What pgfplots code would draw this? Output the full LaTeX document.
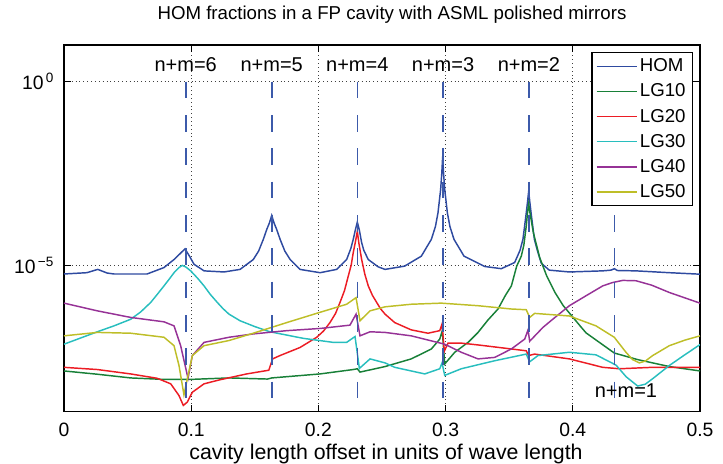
\documentclass[border=0pt]{standalone}
\usepackage{fontspec}
\setmainfont{Liberation Sans}
\usepackage{pgfplots}
\pgfplotsset{compat=1.18}

\definecolor{cHOM}{RGB}{46,74,160}
\definecolor{cLGa}{RGB}{24,128,56}
\definecolor{cLGb}{RGB}{236,28,36}
\definecolor{cLGc}{RGB}{40,190,190}
\definecolor{cLGd}{RGB}{150,50,150}
\definecolor{cLGe}{RGB}{190,190,40}
\definecolor{cdash}{RGB}{60,90,170}

\begin{document}
\begin{tikzpicture}
\begin{axis}[
  scale only axis,
  width=477pt, height=275pt,
  ymode=log,
  xmin=0, xmax=0.5, ymin=1e-9, ymax=10,
  xtick={0,0.1,0.2,0.3,0.4,0.5},
  xticklabels={0,0.1,0.2,0.3,0.4,0.5},
  ytick={1e-5,1},
  yticklabels={10\textsuperscript{\,−5},10\textsuperscript{\,0}},
  yminorticks=false, xminorticks=false,
  tick align=inside, major tick length=5pt,
  tick style={black, line width=0.7pt},
  axis line style={black, line width=1.1pt},
  grid=major,
  major grid style={black!75, line width=0.5pt, dash pattern=on 0.5pt off 2.4pt},
  every tick label/.append style={font=\fontsize{14.5}{16}\selectfont},
  xticklabel style={anchor=base, yshift=-18.75pt},
  yticklabel style={anchor=base east, xshift=-4pt, yshift=-6.2pt},
  title={HOM fractions in a FP cavity with ASML polished mirrors},
  title style={at={(axis description cs:0.5,1)}, anchor=base, yshift=13pt, xshift=7.5pt, font=\fontsize{14}{16}\selectfont},
  xlabel={cavity length offset in units of wave length},
  xlabel style={at={(axis description cs:0.5,0)}, anchor=base, yshift=-36pt, xshift=3pt, font=\fontsize{16}{18}\selectfont},
  legend style={at={(0.989,0.981)}, anchor=north east, draw=black, line width=1.1pt, fill=white,
    font=\fontsize{14}{16}\selectfont, inner xsep=3pt, inner ysep=2.5pt, row sep=3.6pt},
  legend cell align=left,
  legend image code/.code={\draw[#1, line width=1pt] (0pt,0pt) -- (30pt,0pt);},
  every axis plot/.append style={line width=1.1pt},
]
% HOM
\addplot[cHOM] coordinates {
(0,5.69e-6) (0.018,6.17e-6) (0.0265,7.59e-6) (0.034,6.03e-6) (0.0393,5.69e-6)
(0.0653,5.69e-6) (0.0786,8.51e-6) (0.0865,1.41e-5) (0.0910,2.00e-5) (0.0951,2.75e-5)
(0.0985,1.78e-5) (0.1022,1.05e-5)
(0.1101,6.92e-6) (0.1258,6.46e-6) (0.1384,7.59e-6) (0.1488,1.41e-5) (0.1530,2.40e-5)
(0.1567,5.01e-5) (0.1594,9.33e-5) (0.1615,1.41e-4) (0.1633,2.24e-4) (0.1651,1.41e-4)
(0.1672,9.33e-5) (0.1699,5.01e-5) (0.1736,2.40e-5) (0.1778,1.41e-5)
(0.1855,7.59e-6) (0.2013,6.17e-6) (0.2144,7.59e-6) (0.2222,1.41e-5) (0.2255,2.82e-5)
(0.2274,5.01e-5) (0.2290,8.91e-5) (0.2306,1.48e-4) (0.2322,8.91e-5) (0.2340,4.07e-5)
(0.2357,2.51e-5) (0.2392,1.41e-5) (0.2470,8.91e-6)
(0.2524,7.59e-6) (0.2678,9.33e-6) (0.2809,1.74e-5) (0.2888,5.01e-5) (0.2920,1.12e-4)
(0.2940,2.63e-4) (0.2961,1.15e-3) (0.2970,3.16e-3) (0.2977,9.12e-3) (0.2984,3.16e-3)
(0.2993,1.15e-3) (0.3014,2.63e-4) (0.3034,1.12e-4) (0.3066,5.01e-5)
(0.3145,1.74e-5) (0.3307,9.12e-6) (0.3438,7.94e-6) (0.3543,1.17e-5) (0.3585,2.51e-5)
(0.3608,5.01e-5) (0.3634,2.63e-4) (0.3645,5.62e-4) (0.3653,1.02e-3) (0.3661,5.62e-4)
(0.3672,2.63e-4) (0.3698,5.01e-5) (0.3721,2.51e-5) (0.3752,1.12e-5)
(0.3815,7.24e-6) (0.3973,6.46e-6) (0.4235,6.92e-6) (0.4300,7.24e-6) (0.4327,7.94e-6)
(0.4350,7.08e-6) (0.4497,6.92e-6) (0.4759,6.17e-6) (0.5,5.62e-6)
};
\addlegendentry{HOM}
% LG10
\addplot[cLGa] coordinates {
(0,1.29e-8) (0.0262,1.05e-8) (0.0524,8.32e-9) (0.0786,7.59e-9) (0.0996,7.59e-9)
(0.1297,8.32e-9) (0.16,7.76e-9) (0.1633,8.32e-9) (0.2013,1.07e-8) (0.2274,1.41e-8)
(0.2306,1.48e-8) (0.2327,1.20e-8) (0.2524,1.70e-8) (0.2730,2.75e-8) (0.2888,5.13e-8)
(0.2954,9.55e-8) (0.2974,1.62e-7) (0.2993,2.00e-8) (0.3072,4.17e-8) (0.3180,7.94e-8)
(0.3255,1.45e-7) (0.3333,3.16e-7) (0.3412,6.31e-7) (0.3470,1.48e-6) (0.3517,2.69e-6)
(0.3559,9.33e-6) (0.3595,1.74e-5) (0.3615,3.47e-5) (0.3634,1.15e-4) (0.3645,2.88e-4)
(0.3653,4.68e-4) (0.3662,2.82e-4) (0.3690,7.59e-5) (0.3740,1.58e-5) (0.3795,5.01e-6)
(0.3860,1.78e-6) (0.3925,7.76e-7) (0.4057,2.19e-7)
(0.4104,1.41e-7) (0.4326,3.98e-8) (0.4510,2.63e-8) (0.4759,1.70e-8) (0.5,1.29e-8)
};
\addlegendentry{LG10}
% LG20
\addplot[cLGb] coordinates {
(0,1.62e-8) (0.0262,1.41e-8) (0.0524,1.07e-8) (0.0733,8.13e-9) (0.0839,5.75e-9)
(0.0904,2.75e-9) (0.0938,1.48e-9) (0.0969,1.82e-9) (0.1009,3.39e-9) (0.1101,5.75e-9)
(0.1226,7.41e-9) (0.1436,1.07e-8) (0.1610,1.35e-8) (0.1640,2.75e-8) (0.1698,3.39e-8)
(0.1855,5.62e-8) (0.1987,1.07e-7) (0.2040,1.58e-7) (0.2091,2.69e-7) (0.2135,4.79e-7)
(0.2170,9.55e-7) (0.2205,2.00e-6) (0.2235,5.01e-6) (0.2258,1.00e-5)
(0.2274,2.19e-5) (0.2292,4.47e-5) (0.2306,8.32e-5) (0.2318,3.98e-5) (0.2340,1.41e-5)
(0.2365,5.62e-6) (0.2392,2.69e-6) (0.2425,1.48e-6) (0.2458,9.55e-7) (0.2490,6.31e-7)
(0.2524,4.57e-7) (0.2600,2.69e-7) (0.2730,1.70e-7) (0.2862,1.38e-7) (0.2954,1.62e-7)
(0.2972,2.45e-7) (0.2990,4.47e-8) (0.3019,7.41e-8) (0.3123,7.41e-8) (0.3255,6.61e-8)
(0.3517,5.13e-8) (0.3634,4.57e-8) (0.3653,3.39e-8) (0.3700,3.72e-8) (0.3973,2.75e-8)
(0.4235,1.62e-8) (0.4366,1.48e-8) (0.4628,1.62e-8) (0.5,1.62e-8)
};
\addlegendentry{LG20}
% LG30
\addplot[cLGc] coordinates {
(0,6.92e-8) (0.0262,1.51e-7) (0.0393,2.19e-7) (0.0524,3.31e-7) (0.0603,5.25e-7)
(0.0682,9.55e-7) (0.0733,1.58e-6) (0.0786,2.69e-6) (0.0826,4.07e-6) (0.0865,6.17e-6)
(0.0904,8.51e-6) (0.0930,9.77e-6) (0.0960,8.71e-6) (0.0996,6.92e-6) (0.1050,4.37e-6)
(0.1101,2.69e-6) (0.1150,1.58e-6) (0.1205,9.55e-7) (0.1250,6.46e-7)
(0.1297,4.57e-7) (0.1384,3.02e-7) (0.1500,2.09e-7) (0.1619,1.51e-7) (0.1881,1.00e-7)
(0.2117,7.76e-8)
(0.2222,7.76e-8) (0.2288,1.12e-7) (0.2322,1.51e-8) (0.2406,2.75e-8) (0.2524,2.14e-8)
(0.2600,1.62e-8) (0.2836,1.07e-8) (0.2954,1.48e-8) (0.2972,2.14e-8) (0.2993,9.77e-9)
(0.3123,1.48e-8) (0.3386,2.45e-8) (0.3634,3.72e-8) (0.3661,2.29e-8) (0.3726,3.39e-8)
(0.3973,4.17e-8) (0.4182,3.55e-8) (0.4340,1.86e-8) (0.4420,8.91e-9) (0.4510,5.01e-9)
(0.4570,5.62e-9) (0.4628,7.94e-9) (0.4759,1.82e-8) (0.4880,3.55e-8) (0.5,6.76e-8)
};
\addlegendentry{LG30}
% LG40
\addplot[cLGd] coordinates {
(0,9.12e-7) (0.0262,5.62e-7) (0.0524,3.72e-7) (0.0786,2.82e-7) (0.0865,2.19e-7)
(0.0917,6.31e-8) (0.0975,8.13e-9) (0.1009,3.39e-8) (0.1101,7.76e-8) (0.1297,1.07e-7)
(0.1488,1.32e-7) (0.1751,1.62e-7) (0.2013,1.86e-7) (0.2248,2.29e-7) (0.2296,4.57e-7)
(0.2327,1.17e-7) (0.2406,1.51e-7) (0.2524,1.45e-7) (0.2730,1.17e-7) (0.2993,6.92e-8)
(0.3123,4.17e-8) (0.3255,2.75e-8) (0.3386,3.02e-8) (0.3517,5.13e-8) (0.3622,9.55e-8)
(0.3648,1.70e-7) (0.3661,8.32e-8) (0.3766,2.00e-7) (0.3842,3.31e-7) (0.3973,7.76e-7)
(0.4104,1.45e-6) (0.4235,2.69e-6) (0.4310,3.31e-6) (0.4392,3.80e-6) (0.4497,3.72e-6)
(0.4620,2.82e-6) (0.4759,1.78e-6) (0.5,9.12e-7)
};
\addlegendentry{LG40}
% LG50
\addplot[cLGe] coordinates {
(0,1.17e-7) (0.0262,1.45e-7) (0.0524,1.38e-7) (0.0786,1.07e-7) (0.0865,6.31e-8)
(0.0904,1.82e-8) (0.0943,2.88e-9) (0.0969,7.76e-9) (0.1009,3.39e-8) (0.1101,6.31e-8)
(0.1297,8.71e-8) (0.1488,1.38e-7) (0.1751,2.69e-7) (0.2013,5.13e-7) (0.2222,8.51e-7)
(0.2296,1.29e-6) (0.2327,3.02e-7) (0.2406,5.62e-7) (0.2524,7.24e-7) (0.2730,8.51e-7)
(0.2966,9.12e-7) (0.3255,7.76e-7) (0.3517,6.31e-7) (0.3634,6.03e-7) (0.3661,3.72e-7)
(0.3700,4.79e-7) (0.3973,4.07e-7) (0.4182,2.19e-7) (0.4326,1.07e-7) (0.4418,4.17e-8)
(0.4470,2.63e-8) (0.4523,2.14e-8) (0.4570,2.40e-8) (0.4628,3.39e-8) (0.4759,6.31e-8)
(0.4880,8.91e-8) (0.5,1.17e-7)
};
\addlegendentry{LG50}
% mode resonance markers
\addplot[cdash, line width=1.2pt, dash pattern=on 12.5pt off 12.5pt, forget plot] coordinates {(0.0957,1) (0.0957,1e-9)};
\addplot[cdash, line width=1.2pt, dash pattern=on 12.5pt off 12.5pt, forget plot] coordinates {(0.1633,1) (0.1633,1e-9)};
\addplot[cdash, line width=1.2pt, dash pattern=on 12.5pt off 12.5pt, forget plot] coordinates {(0.2306,1) (0.2306,1e-9)};
\addplot[cdash, line width=1.2pt, dash pattern=on 12.5pt off 12.5pt, forget plot] coordinates {(0.2980,1) (0.2980,1e-9)};
\addplot[cdash, line width=1.2pt, dash pattern=on 12.5pt off 12.5pt, forget plot] coordinates {(0.3655,1) (0.3655,1e-9)};
\addplot[cdash, line width=1.2pt, dash pattern=on 12.5pt off 12.5pt, forget plot] coordinates {(0.4329,1) (0.4329,1e-9)};
\node[font=\fontsize{15}{17}\selectfont] at (axis cs:0.0957,2.9) {n+m=6};
\node[font=\fontsize{15}{17}\selectfont] at (axis cs:0.1633,2.9) {n+m=5};
\node[font=\fontsize{15}{17}\selectfont] at (axis cs:0.2306,2.9) {n+m=4};
\node[font=\fontsize{15}{17}\selectfont] at (axis cs:0.2980,2.9) {n+m=3};
\node[font=\fontsize{15}{17}\selectfont] at (axis cs:0.3655,2.9) {n+m=2};
\node[font=\fontsize{15}{17}\selectfont] at (axis cs:0.4418,3.8e-9) {n+m=1};
\end{axis}
\pgfresetboundingbox
\path[use as bounding box] ([xshift=-48pt,yshift=-39pt]current axis.south west) rectangle ([xshift=17.25pt,yshift=33.75pt]current axis.north east);
\end{tikzpicture}
\end{document}
